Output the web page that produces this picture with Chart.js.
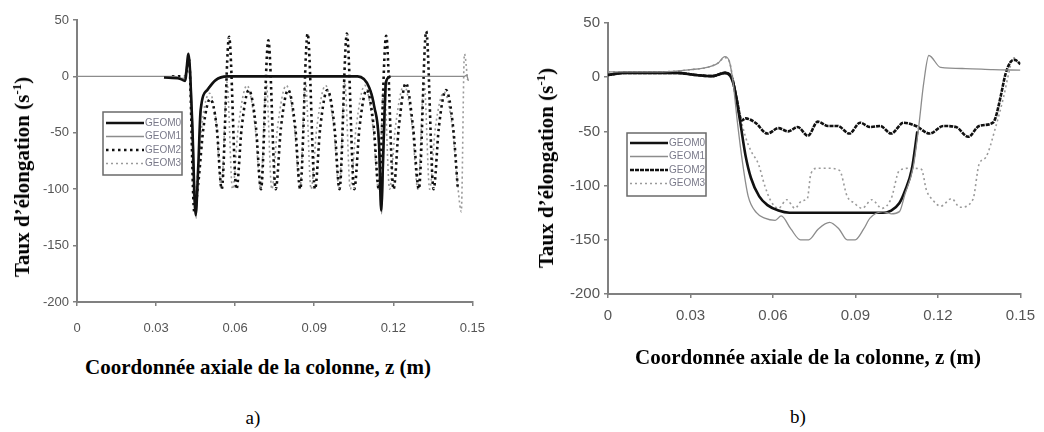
<!DOCTYPE html>
<html>
<head>
<meta charset="utf-8">
<script src="https://cdn.jsdelivr.net/npm/chart.js@4.4.0/dist/chart.umd.min.js"></script>
<style>
  body { margin: 0; background: #fff; width: 1044px; height: 432px; overflow: hidden; position: relative; font-family: 'Liberation Serif', 'Times New Roman', serif; }
  .box { position: absolute; }
  .lbl { position: absolute; white-space: nowrap; transform: translate(-50%, -50%); color: #000; }
  .ytitle { font-weight: bold; font-size: 21px; transform: translate(-50%, -50%) rotate(-90deg); }
  .ytitle sup { font-size: 13px; }
  .xtitle { font-weight: bold; font-size: 21px; }
  .cap { font-size: 19px; }
</style>
</head>
<body>
<div class="box" style="left:0;top:0;width:500px;height:345px"><canvas id="chartA" width="500" height="345"></canvas></div>
<div class="box" style="left:520px;top:0;width:524px;height:345px"><canvas id="chartB" width="524" height="345"></canvas></div>

<div class="lbl ytitle" style="left:22px;top:177px">Taux d’élongation (s<sup>-1</sup>)</div>
<div class="lbl ytitle" style="left:546px;top:168px">Taux d’élongation (s<sup>-1</sup>)</div>
<div class="lbl xtitle" style="left:258px;top:367px">Coordonnée axiale de la colonne, z (m)</div>
<div class="lbl xtitle" style="left:808px;top:357px">Coordonnée axiale de la colonne, z (m)</div>
<div class="lbl cap" style="left:253px;top:418px">a)</div>
<div class="lbl cap" style="left:798px;top:417px">b)</div>

<script>
// series names and axis ticks
const seriesNames = ['GEOM0', 'GEOM1', 'GEOM2', 'GEOM3'];
const xTicks = [0, 0.03, 0.06, 0.09, 0.12, 0.15];
const xTickLabels = ['0', '0.03', '0.06', '0.09', '0.12', '0.15'];
const yTicks = [50, 0, -50, -100, -150, -200];
const yTickLabels = ['50', '0', '-50', '-100', '-150', '-200'];

// ---- a) ----
const zA0 = [0.033, 0.039, 0.041, 0.0423, 0.0437, 0.045, 0.046, 0.0469, 0.0495, 0.0525, 0.057, 0.1065, 0.1109, 0.1128, 0.1146, 0.1154, 0.1163, 0.1172, 0.119];
const vA0 = [-1, -2, -4, 20, -40, -123, -80, -30, -12, -3.5, 0, 0, -10, -27, -60, -119, -60, -5, 0];

const zA1 = [0, 0.037, 0.0405, 0.0418, 0.0426, 0.044, 0.0452, 0.0462, 0.0472, 0.0498, 0.053, 0.058, 0.106, 0.1105, 0.1125, 0.1143, 0.1156, 0.1166, 0.1176, 0.119, 0.147, 0.1478, 0.1485];
const vA1 = [0, 0, -2, 12, 18, -50, -126, -75, -28, -10, -3, 0, 0, -8, -22, -55, -122, -55, -4, 0, 0, 1, -4];

const zA2 = [0.036, 0.041, 0.0425, 0.0445, 0.046, 0.048, 0.0505, 0.053, 0.0549,
  0.0577, 0.0605, 0.0625, 0.0652, 0.0679, 0.0698,
  0.0726, 0.0754, 0.0774, 0.0801, 0.0828, 0.0847,
  0.0875, 0.0903, 0.0923, 0.095, 0.0977, 0.0996,
  0.1024, 0.1052, 0.1072, 0.1099, 0.1126, 0.1145,
  0.1173, 0.1201, 0.1221, 0.1248, 0.1275, 0.1297,
  0.1325, 0.1353, 0.1373, 0.14, 0.1427, 0.1445];
const vA2 = [0, 0, 15, -120, -95, -45, -20, -45, -100,
  35, -100, -45, -12, -45, -100,
  32, -100, -45, -12, -45, -100,
  38, -100, -45, -12, -45, -100,
  38, -100, -45, -12, -45, -100,
  36, -100, -45, -6, -45, -100,
  40, -100, -45, -12, -45, -100];

const zA3 = [0.036, 0.0412, 0.0425, 0.0445, 0.0458, 0.0478, 0.0503, 0.0528, 0.0548,
  0.0569, 0.059, 0.0612, 0.0645, 0.0676, 0.0697,
  0.0718, 0.0739, 0.0761, 0.0794, 0.0825, 0.0846,
  0.0867, 0.0888, 0.091, 0.0943, 0.0974, 0.0995,
  0.1016, 0.1037, 0.1059, 0.1092, 0.1123, 0.1144,
  0.1165, 0.1186, 0.1208, 0.1241, 0.1272, 0.1293,
  0.1317, 0.1338, 0.136, 0.1393, 0.1424, 0.1446,
  0.1458, 0.147, 0.1482];
const vA3 = [0, -2, 16, -110, -85, -35, -15, -40, -100,
  -5, -100, -45, -8, -45, -100,
  -5, -100, -45, -8, -45, -100,
  -5, -100, -45, -8, -45, -100,
  -5, -100, -45, -8, -45, -100,
  -5, -100, -45, -8, -45, -100,
  -5, -100, -45, -14, -45, -100,
  -120, 20, -3];

// ---- b) ----
const zB0 = [0, 0.006, 0.015, 0.025, 0.032, 0.038, 0.0425, 0.0445, 0.046, 0.048, 0.05, 0.052, 0.055, 0.058, 0.062, 0.066, 0.1, 0.103, 0.106, 0.108, 0.1105, 0.1125];
const vB0 = [2, 4, 4, 4, 2, 1, 4, 1, -10, -40, -72, -93, -110, -118, -123, -125, -125, -123, -116, -105, -85, -50];

const zB1 = [0, 0.01, 0.02, 0.03, 0.036, 0.04, 0.0425, 0.0442, 0.0455, 0.047, 0.049, 0.051, 0.054, 0.057, 0.0608, 0.063, 0.0665, 0.07, 0.073, 0.0765, 0.0806, 0.084, 0.087, 0.0899, 0.093, 0.0953, 0.1, 0.103, 0.106, 0.108, 0.111, 0.113, 0.1148, 0.1167, 0.121, 0.13, 0.14, 0.15];
const vB1 = [5, 5, 5, 7, 9, 13, 19, 14, -5, -40, -80, -110, -125, -130, -132, -128, -140, -150, -150, -140, -134, -140, -150, -150, -140, -130, -124, -126, -124, -108, -83, -46, -6, 20, 9, 8, 7, 6.5];

const zB2 = [0, 0.006, 0.015, 0.025, 0.032, 0.038, 0.0425, 0.045, 0.0468, 0.0486, 0.05, 0.0536, 0.058, 0.062, 0.0655, 0.069, 0.0727, 0.0763, 0.08, 0.0835, 0.0878, 0.0917, 0.0953, 0.099, 0.103, 0.1075, 0.112, 0.117, 0.122, 0.1266, 0.131, 0.135, 0.14, 0.141, 0.1428, 0.1446, 0.1464, 0.148, 0.15];
const vB2 = [2, 4, 4, 4, 2, 1, 4, 0, -20, -40, -38, -42, -52, -47, -50, -46, -54, -41, -45, -45, -52, -42, -46, -45, -52, -42, -45, -52, -45, -46, -55, -45, -42, -37, -18, 3, 14, 16, 12];

const zB3 = [0, 0.01, 0.02, 0.03, 0.036, 0.04, 0.0425, 0.0442, 0.046, 0.048, 0.05, 0.052, 0.0547, 0.057, 0.0594, 0.062, 0.065, 0.068, 0.0705, 0.0725, 0.0738, 0.0763, 0.08, 0.0842, 0.087, 0.0895, 0.0924, 0.096, 0.0996, 0.103, 0.106, 0.11, 0.114, 0.1158, 0.118, 0.121, 0.125, 0.128, 0.1327, 0.135, 0.1374, 0.141, 0.1439, 0.1457, 0.147, 0.148, 0.149];
const vB3 = [5, 5, 5, 7, 9, 13, 18, 14, -10, -35, -55, -68, -80, -100, -115, -121, -113, -121, -114, -112, -89, -84, -84, -86, -110, -116, -121, -113, -121, -112, -86, -84, -85, -104, -113, -119, -112, -120, -113, -80, -74, -46, -18, 3, 16, 18, 12];

function pts(zs, vs) {
  return zs.map((z, i) => ({ x: z, y: vs[i] }));
}

// legend drawn inside the plot, like the original
const insetLegend = {
  id: 'insetLegend',
  afterDatasetsDraw(chart, args, o) {
    const ctx = chart.ctx;
    ctx.save();
    ctx.fillStyle = '#fff';
    ctx.fillRect(o.x, o.y, o.w, o.h);
    ctx.strokeStyle = '#6a6a6a';
    ctx.lineWidth = 1.5;
    ctx.strokeRect(o.x, o.y, o.w, o.h);
    chart.data.datasets.forEach((ds, i) => {
      const y = o.y + o.rowTop + i * o.rowGap;
      ctx.beginPath();
      ctx.setLineDash(ds.borderDash || []);
      ctx.lineWidth = ds.borderWidth;
      ctx.strokeStyle = ds.borderColor;
      ctx.moveTo(o.x + 3, y);
      ctx.lineTo(o.x + o.lineLen, y);
      ctx.stroke();
      ctx.setLineDash([]);
      ctx.fillStyle = '#7a7a8a';
      ctx.font = o.font;
      ctx.textBaseline = 'middle';
      ctx.fillText(ds.label, o.x + o.lineLen + 1, y);
    });
    ctx.restore();
  }
};

function makeChart(id, series, dash2, cfg) {
  const styles = [
    { borderColor: '#111', borderWidth: 2.6, borderDash: [] },
    { borderColor: '#8c8c8c', borderWidth: 1.3, borderDash: [] },
    { borderColor: '#111', borderWidth: 2.6, borderDash: dash2 },
    { borderColor: '#9a9a9a', borderWidth: 1.6, borderDash: [2, 3] }
  ];
  const datasets = series.map((s, i) => ({
    label: seriesNames[i],
    data: s,
    borderColor: styles[i].borderColor,
    borderWidth: styles[i].borderWidth,
    borderDash: styles[i].borderDash,
    pointRadius: 0,
    fill: false,
    cubicInterpolationMode: 'monotone',
    tension: 0.4,
    order: cfg.orders[i]
  }));
  const tickFont = { family: "'Liberation Sans Narrow', 'Liberation Sans', Arial, sans-serif", size: cfg.tickSize };
  return new Chart(document.getElementById(id).getContext('2d'), {
    type: 'line',
    data: { datasets: datasets },
    options: {
      responsive: false,
      animation: false,
      devicePixelRatio: 1,
      layout: { padding: cfg.padding },
      plugins: {
        legend: { display: false },
        tooltip: { enabled: false },
        insetLegend: cfg.legend
      },
      scales: {
        x: {
          type: 'linear', min: 0, max: 0.15,
          afterBuildTicks: s => { s.ticks = xTicks.map(v => ({ value: v })); },
          afterFit: s => { s.height = cfg.xHeight; },
          ticks: { callback: (v, i) => xTickLabels[i], color: '#555', font: tickFont, padding: cfg.xPad, maxRotation: 0 },
          grid: { drawOnChartArea: false, drawTicks: true, tickLength: 4, color: '#808080', lineWidth: 1.5 },
          border: { color: '#808080', width: 2 }
        },
        y: {
          type: 'linear', min: -200, max: 50,
          afterBuildTicks: s => { s.ticks = yTicks.map(v => ({ value: v })); },
          afterFit: s => { s.width = cfg.yWidth; },
          ticks: { callback: (v, i) => yTickLabels[i], color: '#555', font: tickFont, padding: 4 },
          grid: { drawOnChartArea: false, drawTicks: true, tickLength: 4, color: '#808080', lineWidth: 1.5 },
          border: { color: '#808080', width: 2 }
        }
      }
    },
    plugins: [insetLegend]
  });
}

window.chartA = makeChart('chartA',
  [pts(zA0, vA0), pts(zA1, vA1), pts(zA2, vA2), pts(zA3, vA3)],
  [2.5, 3.5],
  {
    padding: { left: 0, top: 20, right: 20, bottom: 0 },
    yWidth: 77, xHeight: 43, xPad: 15, tickSize: 13,
    orders: [0, 1, 2, 3],
    legend: { x: 103, y: 112, w: 79, h: 63, rowTop: 11, rowGap: 13.5, lineLen: 41, font: "10px 'Liberation Sans', Arial, sans-serif" }
  });

window.chartB = makeChart('chartB',
  [pts(zB0, vB0), pts(zB1, vB1), pts(zB2, vB2), pts(zB3, vB3)],
  [4, 1],
  {
    padding: { left: 0, top: 23, right: 19, bottom: 0 },
    yWidth: 88, xHeight: 51, xPad: 9, tickSize: 15,
    orders: [1, 0, 2, 3],
    legend: { x: 107, y: 133, w: 79, h: 63, rowTop: 10, rowGap: 13.5, lineLen: 41, font: "10px 'Liberation Sans', Arial, sans-serif" }
  });
</script>
</body>
</html>
